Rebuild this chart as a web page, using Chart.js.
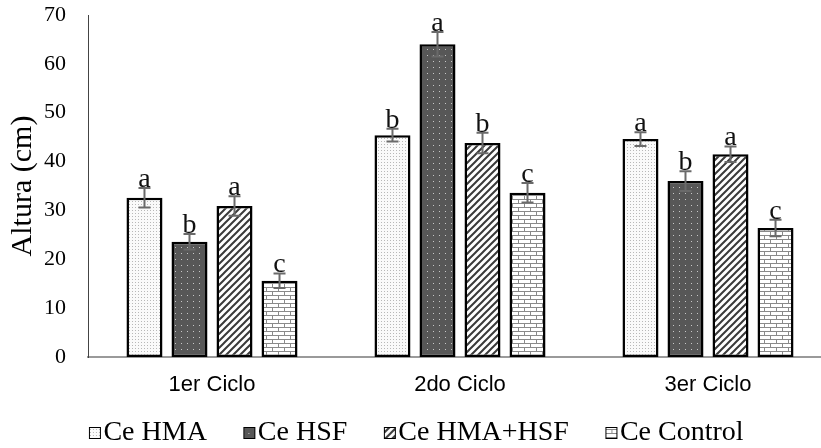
<!DOCTYPE html>
<html>
<head>
<meta charset="utf-8">
<script src="https://cdn.jsdelivr.net/npm/chart.js@4/dist/chart.umd.min.js"></script>
<style>
  html, body { margin: 0; padding: 0; background: #fff; overflow: hidden; }
  #wrap { width: 836px; height: 448px; }
</style>
</head>
<body>
<div id="wrap"><canvas id="chart" width="836" height="448"></canvas></div>
<script>
// --- Dati ---
const ciclos = ['1er Ciclo', '2do Ciclo', '3er Ciclo'];
const seriesNames = ['Ce HMA', 'Ce HSF', 'Ce HMA+HSF', 'Ce Control'];

const hma     = [32.6, 45.4, 44.6];
const hsf     = [23.6, 64.0, 36.0];
const hmaHsf  = [30.9, 43.8, 41.5];
const control = [15.6, 33.6, 26.4];

const errHma     = [2.0, 1.3, 1.4];
const errHsf     = [1.6, 2.5, 2.0];
const errHmaHsf  = [2.0, 2.1, 1.6];
const errControl = [1.5, 2.0, 1.7];

const letHma     = ['a', 'b', 'a'];
const letHsf     = ['b', 'a', 'b'];
const letHmaHsf  = ['a', 'b', 'a'];
const letControl = ['c', 'c', 'c'];

const yTicks = [0, 10, 20, 30, 40, 50, 60, 70];

const SERIF = '"Liberation Serif", "Times New Roman", serif';

// --- Pattern helpers ---
function makeTile(w, h, draw) {
  const c = document.createElement('canvas');
  c.width = w; c.height = h;
  draw(c.getContext('2d'), w, h);
  return c;
}
const toPattern = (tile) => tile.getContext('2d').createPattern(tile, 'repeat');

const tileDots = makeTile(3, 3, (g) => {
  g.fillStyle = '#fafafa'; g.fillRect(0, 0, 3, 3);
  g.fillStyle = '#b8b8b8'; g.fillRect(0, 0, 1, 1);
});
const tileDark = makeTile(6, 6, (g) => {
  g.fillStyle = '#575757'; g.fillRect(0, 0, 6, 6);
  g.fillStyle = '#c8c8c8'; g.fillRect(1, 1, 1, 1);
});
const tileHatch = makeTile(7, 7, (g) => {
  g.fillStyle = '#fff'; g.fillRect(0, 0, 7, 7);
  g.strokeStyle = '#3a3a3a'; g.lineWidth = 2;
  g.beginPath();
  g.moveTo(-1, 8); g.lineTo(8, -1);
  g.moveTo(-4, 4); g.lineTo(4, -4);
  g.moveTo(3, 11); g.lineTo(11, 3);
  g.stroke();
});
const tileBrick = makeTile(12, 8, (g) => {
  g.fillStyle = '#fff'; g.fillRect(0, 0, 12, 8);
  g.fillStyle = '#8a8a8a';
  g.fillRect(0, 3, 12, 1);
  g.fillRect(0, 7, 12, 1);
  g.fillRect(2, 0, 1, 3);
  g.fillRect(8, 4, 1, 3);
});
const tiles = [tileDots, tileDark, tileHatch, tileBrick];

// icona legenda: quadratino spostato a destra, così il testo gli sta vicino
function legendIcon(tile) {
  return makeTile(28, 14, (g) => {
    g.fillStyle = g.createPattern(tile, 'repeat');
    g.fillRect(14, 1, 12, 12);
    g.strokeStyle = '#000'; g.lineWidth = 1;
    g.strokeRect(14.5, 1.5, 11, 11);
  });
}

// --- Barre d'errore e lettere ---
const errorPlugin = {
  id: 'errorBars',
  afterDatasetsDraw(chart) {
    const { ctx, scales: { y } } = chart;
    ctx.save();
    chart.data.datasets.forEach((ds, di) => {
      const meta = chart.getDatasetMeta(di);
      meta.data.forEach((bar, i) => {
        const v = ds.data[i], e = ds.errors[i];
        const top = y.getPixelForValue(v + e);
        const bot = y.getPixelForValue(v - e);
        ctx.strokeStyle = '#6a6a6a';
        ctx.lineWidth = 2;
        ctx.beginPath();
        ctx.moveTo(bar.x, top); ctx.lineTo(bar.x, bot);
        ctx.moveTo(bar.x - 6, top); ctx.lineTo(bar.x + 6, top);
        ctx.moveTo(bar.x - 6, bot); ctx.lineTo(bar.x + 6, bot);
        ctx.stroke();
        ctx.fillStyle = '#111';
        ctx.font = '28px ' + SERIF;
        ctx.textAlign = 'center';
        ctx.textBaseline = 'alphabetic';
        ctx.fillText(ds.letters[i], bar.x, top - 1);
      });
    });
    ctx.restore();
  }
};

// legenda più compatta in altezza (padding largo solo in orizzontale)
const LEGEND_H = 50, LEGEND_SHIFT = 15;
const legendTight = {
  id: 'legendTight',
  afterInit(chart) {
    const lg = chart.legend;
    const fit = lg.fit, draw = lg.draw;
    lg.fit = function () { fit.call(this); this.height = LEGEND_H; };
    lg.draw = function () {
      const t = this.top;
      this.top = t - LEGEND_SHIFT;
      draw.call(this);
      this.top = t;
    };
  }
};

const mk = (i, data, errors, letters) => ({
  label: seriesNames[i],
  data, errors, letters,
  backgroundColor: toPattern(tiles[i]),
  borderColor: '#000',
  borderWidth: 2.5,
  borderSkipped: false,
  categoryPercentage: 0.726,
  barPercentage: 0.8
});

new Chart(document.getElementById('chart'), {
  type: 'bar',
  data: {
    labels: ciclos,
    datasets: [
      mk(0, hma, errHma, letHma),
      mk(1, hsf, errHsf, letHsf),
      mk(2, hmaHsf, errHmaHsf, letHmaHsf),
      mk(3, control, errControl, letControl)
    ]
  },
  options: {
    responsive: false,
    animation: false,
    layout: { padding: { top: 15, left: 0, right: 4, bottom: 0 } },
    plugins: {
      tooltip: { enabled: false },
      legend: {
        position: 'bottom',
        labels: {
          usePointStyle: true,
          pointStyleWidth: 1,
          padding: 36,
          color: '#000',
          font: { family: SERIF, size: 28 },
          generateLabels: (chart) =>
            Chart.defaults.plugins.legend.labels.generateLabels(chart)
              .map((it, i) => ({ ...it, pointStyle: legendIcon(tiles[i]) }))
        }
      }
    },
    scales: {
      x: {
        afterFit: (s) => { s.height = 41; s.paddingLeft = 0; s.paddingRight = 0; },
        grid: { display: false, drawTicks: false },
        border: { color: '#9a9a9a', width: 2 },
        ticks: {
          color: '#000', padding: 15,
          font: { family: '"Liberation Sans", Arial, sans-serif', size: 22 }
        }
      },
      y: {
        min: 0, max: 70,
        afterBuildTicks: (s) => { s.ticks = yTicks.map(v => ({ value: v })); },
        afterFit: (s) => { s.width = 88; s.paddingTop = 0; s.paddingBottom = 0; },
        grid: { display: false, drawTicks: false },
        border: { color: '#444', width: 1 },
        ticks: {
          color: '#000', padding: 22,
          font: { family: SERIF, size: 22 }
        },
        title: {
          display: true, text: 'Altura (cm)', color: '#000',
          padding: { top: 5, bottom: 0 },
          font: { family: SERIF, size: 30 }
        }
      }
    }
  },
  plugins: [errorPlugin, legendTight]
});
</script>
</body>
</html>
